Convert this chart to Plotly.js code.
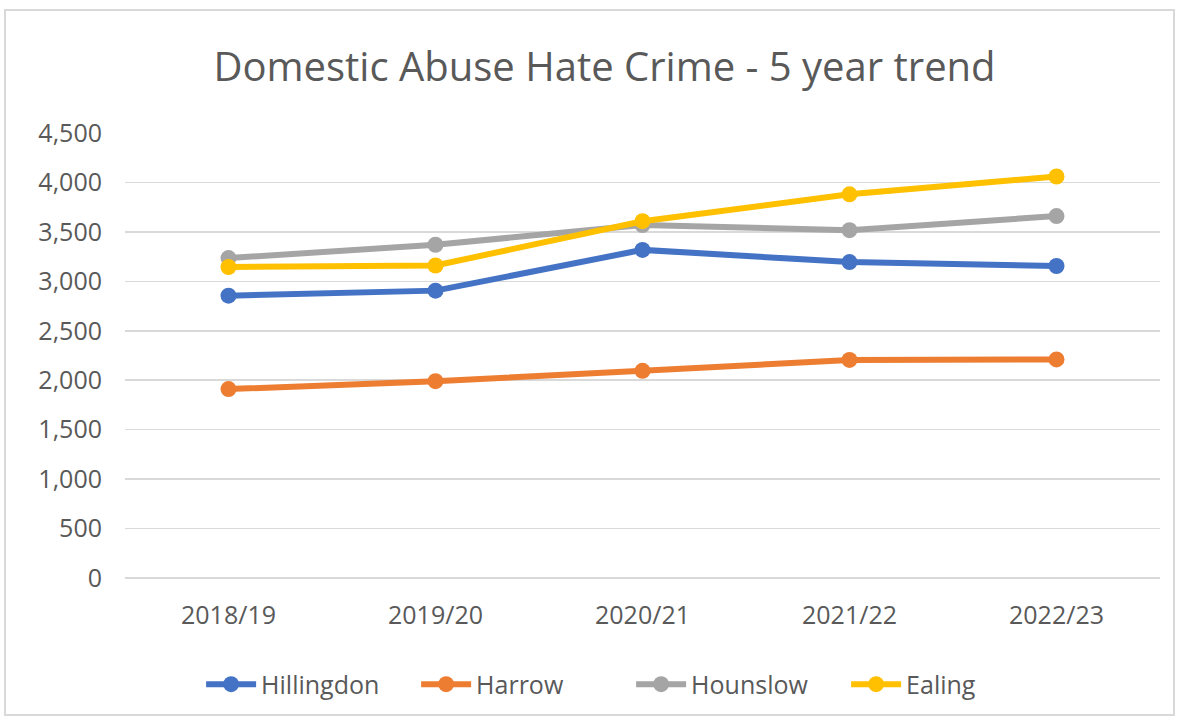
<!DOCTYPE html>
<html><head><meta charset="utf-8">
<script src="https://cdn.plot.ly/plotly-3.0.1.min.js"></script>
<style>
html,body{margin:0;padding:0;background:#fff;}
#wrap{position:absolute;left:4px;top:9px;width:1171px;height:707px;border:2px solid #d9d9d9;box-sizing:border-box;}
#chart{position:absolute;left:0;top:0;width:1183px;height:722px;}
</style></head>
<body>
<div id="wrap"></div>
<div id="chart"></div>
<script>
const years = ["2018/19","2019/20","2020/21","2021/22","2022/23"];
const hillingdon = [2855, 2906, 3318, 3195, 3155];
const harrow = [1910, 1990, 2095, 2205, 2210];
const hounslow = [3235, 3370, 3570, 3517, 3660];
const ealing = [3145, 3160, 3608, 3880, 4060];

const seriesNames = ["Hillingdon","Harrow","Hounslow","Ealing"];
const seriesData = [hillingdon, harrow, hounslow, ealing];
const colors = ["#4472C4","#ED7D31","#A5A5A5","#FFC000"];

const traces = seriesNames.map((n,i)=>({
  type:'scatter', mode:'lines+markers', name:n, x:years, y:seriesData[i],
  line:{color:colors[i], width:6},
  marker:{color:colors[i], size:16},
  cliponaxis:false
}));

const font = "Open Sans, Noto Sans, sans-serif";
const layout = {
  width:1183, height:722,
  paper_bgcolor:'rgba(0,0,0,0)', plot_bgcolor:'rgba(0,0,0,0)',
  margin:{l:125, r:23, t:133, b:144},
  title:{text:"Domestic Abuse Hate Crime - 5 year trend", x:0.511, xref:'container', xanchor:'center', y:0.907, yref:'container', yanchor:'middle', font:{family:font, size:40, color:'#595959'}},
  xaxis:{type:'category', range:[-0.5,4.5], showgrid:false, zeroline:false, showline:false, ticks:'', tickfont:{family:font, size:25, color:'#595959'}, ticklabelstandoff:20},
  yaxis:{range:[0,4500], dtick:500, tickformat:',', showgrid:true, gridcolor:'#d9d9d9', gridwidth:1.5, zeroline:true, zerolinecolor:'#d9d9d9', zerolinewidth:1.5, showline:false, ticks:'', tickfont:{family:font, size:25, color:'#595959'}, ticklabelstandoff:22},
  showlegend:true,
  legend:{orientation:'h', x:0.17, xref:'container', xanchor:'left', y:0.052, yref:'container', yanchor:'middle', font:{family:font, size:25, color:'#595959'}, itemwidth:50, entrywidth:150, entrywidthmode:'pixels', traceorder:'normal'},
  hovermode:false
};
Plotly.newPlot('chart', traces, layout, {displayModeBar:false, staticPlot:true});
</script>
</body></html>
